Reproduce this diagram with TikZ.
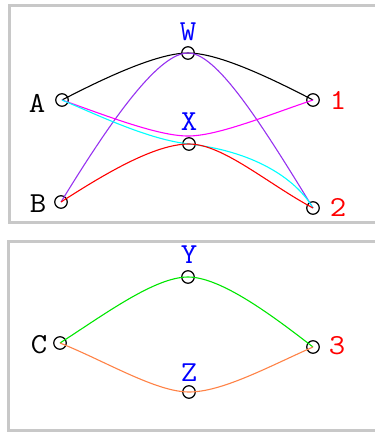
\documentclass[tikz,border=0pt]{standalone}
\usepackage{fontspec}
\newfontfamily\lblfont{Latin Modern Mono}[FakeStretch=1.1]
\definecolor{framegray}{RGB}{200,200,200}
\definecolor{cvpurple}{RGB}{150,50,240}
\definecolor{cvmagenta}{RGB}{255,0,255}
\definecolor{cvcyan}{RGB}{0,255,255}
\definecolor{cvred}{RGB}{255,0,0}
\definecolor{cvgreen}{RGB}{0,230,0}
\definecolor{cvorange}{RGB}{255,130,70}
\definecolor{lblblue}{RGB}{0,0,255}
\definecolor{lblred}{RGB}{255,0,0}
\begin{document}
\begin{tikzpicture}[x=1pt,y=-1pt,
  pin/.style={circle,draw=black,line width=1.2pt,minimum size=12.5pt,inner sep=0pt},
  lbl/.style={inner sep=0pt,font=\lblfont\fontsize{29}{29}\selectfont},
  lblk/.style={lbl,text=black},
  lblb/.style={lbl,text=lblblue},
  lblr/.style={lbl,text=lblred},
  curve/.style={line width=1.1pt},
  frame/.style={draw=framegray,line width=3pt}]
\useasboundingbox (0,0) rectangle (375,432);
\clip (0,0) rectangle (375,432);
% frames
\draw[frame] (9,5) rectangle (385,222.5);
\draw[frame] (8.5,241) rectangle (385,430.5);
% panel 1 nodes
\node[pin] (A) at (62,100) {};
\node[pin] (W) at (188,53) {};
\node[pin] (n1) at (313,100) {};
\node[pin] (X) at (189,144) {};
\node[pin] (B) at (61,202) {};
\node[pin] (n2) at (313,208) {};
% panel 2 nodes
\node[pin] (C) at (60,343) {};
\node[pin] (Y) at (188,277) {};
\node[pin] (n3) at (313,347) {};
\node[pin] (Z) at (189,392) {};
% labels
\node[lblk] (lA) at (37,103) {A};
\node[lblb] (lW) at (188,32) {W};
\node[lblr] (l1) at (338,100) {1};
\node[lblb] (lX) at (189,122) {X};
\node[lblk] (lB) at (38,204) {B};
\node[lblr] (l2) at (338,207) {2};
\node[lblk] (lC) at (39,345) {C};
\node[lblb] (lY) at (189,255) {Y};
\node[lblr] (l3) at (337,346) {3};
\node[lblb] (lZ) at (189,373) {Z};
% curves panel 1
\draw[curve,black] (A.center) .. controls (112,74) and (160,53) .. (W.center)
  .. controls (216,53) and (263,74) .. (n1.center);
\draw[curve,cvpurple] (B.center) .. controls (116,112) and (160,53) .. (W.center)
  .. controls (216,53) and (258,118) .. (n2.center);
\coordinate (m) at (188,136);
\draw[curve,cvmagenta] (A.center) .. controls (107,116) and (158,136) .. (m)
  .. controls (218,136) and (268,115) .. (n1.center);
\draw[curve,cvcyan] (A.center) .. controls (102,117) and (149,139.5) .. (X.center)
  .. controls (259,152) and (298,182) .. (n2.center);
\draw[curve,cvred] (B.center) .. controls (106,173) and (155,144) .. (X.center)
  .. controls (223,144) and (268,184) .. (n2.center);
% curves panel 2
\draw[curve,cvgreen] (C.center) .. controls (105,314) and (155,277) .. (Y.center)
  .. controls (221,277) and (273,316) .. (n3.center);
\draw[curve,cvorange] (C.center) .. controls (105,361) and (156,392) .. (Z.center)
  .. controls (222,392) and (268,367) .. (n3.center);
\end{tikzpicture}
\end{document}
